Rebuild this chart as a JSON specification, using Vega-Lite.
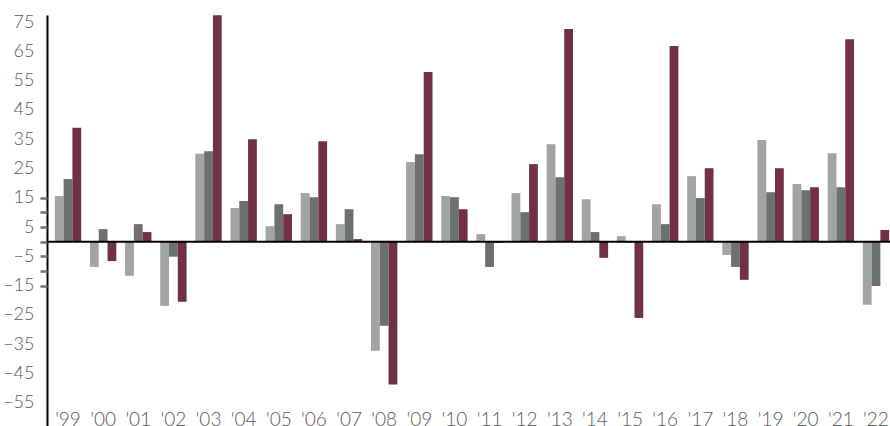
{
  "$schema": "https://vega.github.io/schema/vega-lite/v6.json",
  "width": 850,
  "height": 411,
  "autosize": {"type": "none"},
  "padding": {"left": 47, "top": 15, "right": 0, "bottom": 0},
  "background": "white",
  "config": {"view": {"stroke": null}, "font": "Lato"},
  "data": {"values": [
    {"year": "'99", "series": "A", "value": 15.6}, {"year": "'99", "series": "B", "value": 21.4}, {"year": "'99", "series": "C", "value": 38.9},
    {"year": "'00", "series": "A", "value": -8.6}, {"year": "'00", "series": "B", "value": 4.3}, {"year": "'00", "series": "C", "value": -6.6},
    {"year": "'01", "series": "A", "value": -11.6}, {"year": "'01", "series": "B", "value": 6.0}, {"year": "'01", "series": "C", "value": 3.3},
    {"year": "'02", "series": "A", "value": -21.9}, {"year": "'02", "series": "B", "value": -5.1}, {"year": "'02", "series": "C", "value": -20.5},
    {"year": "'03", "series": "A", "value": 30.0}, {"year": "'03", "series": "B", "value": 30.9}, {"year": "'03", "series": "C", "value": 77.3},
    {"year": "'04", "series": "A", "value": 11.5}, {"year": "'04", "series": "B", "value": 13.9}, {"year": "'04", "series": "C", "value": 35.0},
    {"year": "'05", "series": "A", "value": 5.3}, {"year": "'05", "series": "B", "value": 12.8}, {"year": "'05", "series": "C", "value": 9.4},
    {"year": "'06", "series": "A", "value": 16.6}, {"year": "'06", "series": "B", "value": 15.2}, {"year": "'06", "series": "C", "value": 34.3},
    {"year": "'07", "series": "A", "value": 6.0}, {"year": "'07", "series": "B", "value": 11.1}, {"year": "'07", "series": "C", "value": 0.9},
    {"year": "'08", "series": "A", "value": -37.2}, {"year": "'08", "series": "B", "value": -28.7}, {"year": "'08", "series": "C", "value": -48.7},
    {"year": "'09", "series": "A", "value": 27.2}, {"year": "'09", "series": "B", "value": 29.9}, {"year": "'09", "series": "C", "value": 57.9},
    {"year": "'10", "series": "A", "value": 15.6}, {"year": "'10", "series": "B", "value": 15.2}, {"year": "'10", "series": "C", "value": 11.1},
    {"year": "'11", "series": "A", "value": 2.6}, {"year": "'11", "series": "B", "value": -8.6}, {"year": "'11", "series": "C", "value": -0.4},
    {"year": "'12", "series": "A", "value": 16.6}, {"year": "'12", "series": "B", "value": 10.1}, {"year": "'12", "series": "C", "value": 26.5},
    {"year": "'13", "series": "A", "value": 33.3}, {"year": "'13", "series": "B", "value": 22.0}, {"year": "'13", "series": "C", "value": 72.6},
    {"year": "'14", "series": "A", "value": 14.5}, {"year": "'14", "series": "B", "value": 3.3}, {"year": "'14", "series": "C", "value": -5.5},
    {"year": "'15", "series": "A", "value": 1.9}, {"year": "'15", "series": "B", "value": -0.3}, {"year": "'15", "series": "C", "value": -26.0},
    {"year": "'16", "series": "A", "value": 12.8}, {"year": "'16", "series": "B", "value": 6.0}, {"year": "'16", "series": "C", "value": 66.8},
    {"year": "'17", "series": "A", "value": 22.4}, {"year": "'17", "series": "B", "value": 14.9}, {"year": "'17", "series": "C", "value": 25.1},
    {"year": "'18", "series": "A", "value": -4.5}, {"year": "'18", "series": "B", "value": -8.6}, {"year": "'18", "series": "C", "value": -13.0},
    {"year": "'19", "series": "A", "value": 34.7}, {"year": "'19", "series": "B", "value": 16.9}, {"year": "'19", "series": "C", "value": 25.1},
    {"year": "'20", "series": "A", "value": 19.7}, {"year": "'20", "series": "B", "value": 17.6}, {"year": "'20", "series": "C", "value": 18.6},
    {"year": "'21", "series": "A", "value": 30.2}, {"year": "'21", "series": "B", "value": 18.6}, {"year": "'21", "series": "C", "value": 69.1},
    {"year": "'22", "series": "A", "value": -21.5}, {"year": "'22", "series": "B", "value": -15.1}, {"year": "'22", "series": "C", "value": 4.0}
  ]},
  "layer": [
    {
      "mark": {"type": "bar"},
      "encoding": {
        "x": {
          "field": "year", "type": "nominal", "sort": null,
          "scale": {"paddingInner": 0.25, "paddingOuter": 0.223},
          "axis": {"orient": "bottom", "offset": -16, "domain": false, "ticks": false, "labelAngle": 0, "labelFontSize": 19, "labelFontWeight": 300, "labelColor": "#58595b", "labelPadding": 0, "title": null}
        },
        "xOffset": {"field": "series", "type": "nominal", "scale": {"paddingInner": 0, "paddingOuter": 0}},
        "y": {
          "field": "value", "type": "quantitative",
          "scale": {"domain": [-62.9, 77.4], "nice": false, "zero": false},
          "axis": {"values": [-55, -45, -35, -25, -15, -5, 5, 15, 25, 35, 45, 55, 65, 75], "domain": true, "domainColor": "#000000", "domainWidth": 2, "ticks": false, "labelPadding": 13, "labelFontSize": 18, "labelFontWeight": 300, "labelColor": "#58595b", "grid": false, "title": null}
        },
        "color": {"field": "series", "type": "nominal", "scale": {"domain": ["A", "B", "C"], "range": ["#a2a3a5", "#6d7070", "#722f48"]}, "legend": null}
      }
    },
    {
      "data": {"values": [{"z": 0}]},
      "mark": {"type": "rule", "color": "#000000", "strokeWidth": 2},
      "encoding": {
        "y": {"field": "z", "type": "quantitative",
          "axis": {"orient": "left", "values": [-15, -10, -5, 0, 5, 10, 15], "labels": false, "domain": false, "ticks": true, "tickSize": 7, "tickWidth": 2.5, "tickColor": "#6d7070", "grid": false, "title": null}}
      }
    }
  ],
  "resolve": {"axis": {"y": "independent"}}
}
